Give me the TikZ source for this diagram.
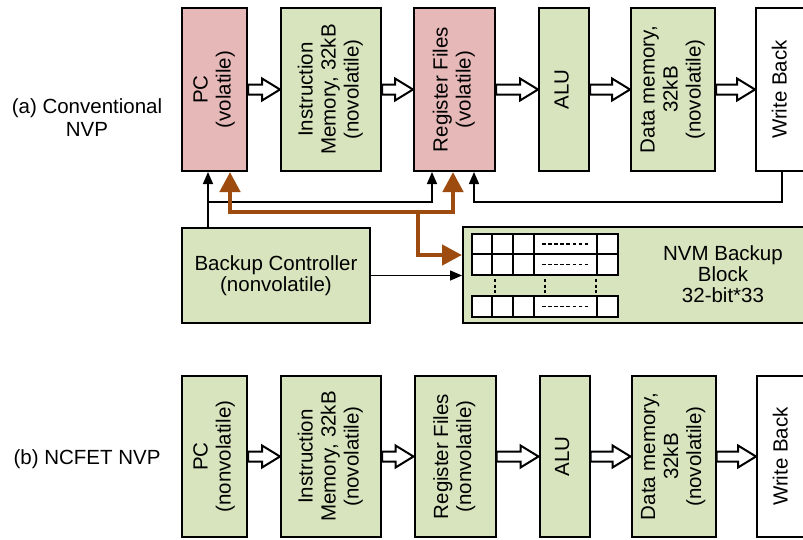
\documentclass[tikz,border=0pt]{standalone}
\usepackage{fontspec}
\setmainfont{Liberation Sans}
\usetikzlibrary{arrows.meta, calc, positioning}

\definecolor{grn}{HTML}{D7E4BD}
\definecolor{rd}{HTML}{E6B9B8}
\definecolor{brn}{HTML}{9E4B0F}

\newcommand{\vlab}[1]{\rotatebox{90}{\begin{tabular}{@{}c@{}}#1\end{tabular}}}
\newcommand{\bigarrow}[2]{%
	\draw[hollow] ($(#1.east)+(0,5)$) -- ($(#2.west)+(-18,5)$) -- ($(#2.west)+(-18,11)$) -- (#2.west)
		-- ($(#2.west)+(-18,-11)$) -- ($(#2.west)+(-18,-5)$) -- ($(#1.east)+(0,-5)$) -- cycle;}

\tikzset{
	box/.style={draw, line width=2pt, inner sep=0pt, fill=grn},
	hollow/.style={draw, line width=2pt, fill=white, line join=miter},
	link/.style={line width=1.5pt, -{Triangle[length=12pt, width=10pt]}},
	bkup/.style={draw=brn, line width=4.5pt, line join=miter},
	cell/.style={line width=1.8pt},
}

\begin{document}
\begin{tikzpicture}[x=1pt, y=-1pt, font=\fontsize{20.5}{23}\selectfont]
	\clip (0,0) rectangle (803,539);
	\def\ya{89.5}
	\def\yb{456.5}

	% (a) conventional
	\node[align=center] (la) at (87,118) {(a) Conventional\\NVP};
	\node[box, fill=rd, minimum width=65pt, minimum height=163pt] (pc) at (214.5,\ya) {\vlab{PC\\(volatile)}};
	\node[box, minimum width=100pt, minimum height=163pt] (im) at (331,\ya) {\vlab{Instruction\\Memory, 32kB\\(novolatile)}};
	\node[box, fill=rd, minimum width=81pt, minimum height=163pt] (rf) at (454.5,\ya) {\vlab{Register Files\\(volatile)}};
	\node[box, minimum width=50pt, minimum height=163pt] (alu) at (564,\ya) {\vlab{ALU}};
	\node[box, minimum width=84pt, minimum height=163pt] (dm) at (673,\ya) {\vlab{Data memory,\\32kB\\(novolatile)}};
	\node[box, fill=white, minimum width=52pt, minimum height=163pt] (wb) at (782,\ya) {\vlab{Write Back}};
	\foreach \a/\b in {pc/im, im/rf, rf/alu, alu/dm, dm/wb}
		\bigarrow{\a}{\b};

	\node[box, align=center, minimum width=188pt, minimum height=95pt, font=\fontsize{20.5}{21}\selectfont] (bc) at (276,275.5) {Backup Controller\\(nonvolatile)};
	\node[box, minimum width=352pt, minimum height=96pt] (nvm) at (639,275) {};
	\node[align=center, font=\fontsize{20.5}{21}\selectfont] (nvmt) at (723,274) {NVM Backup\\Block\\32-bit*33};

	% backup block cells
	\foreach \ra/\rb in {234/254, 254/275, 296/317} {
		\draw[cell, fill=white] (472,\ra) rectangle (618,\rb);
		\foreach \xc in {492,513,534,597}
			\draw[cell] (\xc,\ra) -- (\xc,\rb);
		\draw[line width=1.4pt, dash pattern=on 3.5pt off 2.6pt] (542,{(\ra+\rb)/2}) -- (588,{(\ra+\rb)/2});
	}
	\foreach \xc in {495,545,596}
		\draw[line width=1.8pt, dash pattern=on 3pt off 2.5pt] (\xc,279) -- (\xc,293);

	% control lines
	\coordinate (j1) at (208,202);
	\coordinate (wbret) at (474,202);
	\draw[link] ([xshift=-6.5pt]pc.south |- bc.north) -- ([xshift=-6.5pt]pc.south);
	\draw[link] (j1) -| ([xshift=-22.5pt]rf.south);
	\draw[link] (wb.south) |- (wbret) -- ([xshift=19.5pt]rf.south);
	\draw[link] (bc.east) -- (bc.east -| nvm.west);

	% backup path
	\coordinate (bl) at (230,212);
	\coordinate (br) at (453,212);
	\coordinate (bj) at (418,212);
	\draw[bkup, {Triangle[length=20pt, width=20pt]}-{Triangle[length=20pt, width=20pt]}] ([xshift=15.5pt]pc.south) -- (bl) -- (br) -- ([xshift=-1.5pt]rf.south);
	\draw[bkup, -{Triangle[length=20pt, width=20pt]}] (bj) |- ([yshift=20pt]nvm.west);

	% (b) NCFET
	\node (lb) at (87,459) {(b) NCFET NVP};
	\node[box, minimum width=65pt, minimum height=161pt] (bpc) at (214.5,\yb) {\vlab{PC\\(nonvolatile)}};
	\node[box, minimum width=100pt, minimum height=161pt] (bim) at (331,\yb) {\vlab{Instruction\\Memory, 32kB\\(novolatile)}};
	\node[box, minimum width=81pt, minimum height=161pt] (brf) at (455,\yb) {\vlab{Register Files\\(nonvolatile)}};
	\node[box, minimum width=50pt, minimum height=161pt] (balu) at (564.5,\yb) {\vlab{ALU}};
	\node[box, minimum width=84pt, minimum height=161pt] (bdm) at (673.5,\yb) {\vlab{Data memory,\\32kB\\(novolatile)}};
	\node[box, fill=white, minimum width=52pt, minimum height=161pt] (bwb) at (783,\yb) {\vlab{Write Back}};
	\foreach \a/\b in {bpc/bim, bim/brf, brf/balu, balu/bdm, bdm/bwb}
		\bigarrow{\a}{\b};
\end{tikzpicture}
\end{document}
